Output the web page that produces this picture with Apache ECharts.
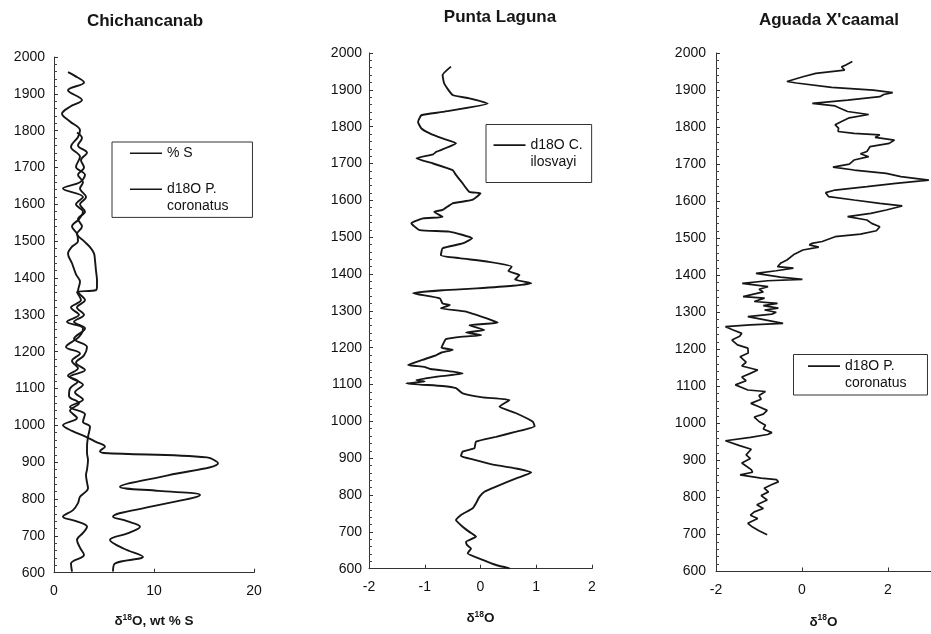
<!DOCTYPE html>
<html>
<head>
<meta charset="utf-8">
<script src="https://cdn.jsdelivr.net/npm/echarts/dist/echarts.min.js"></script>
<style>
html,body{margin:0;padding:0;background:#fff;}
#chart{width:931px;height:634px;}
</style>
</head>
<body>
<div id="chart"></div>
<script>
// ---------------- DATA ----------------
const panelTitles = ['Chichancanab', 'Punta Laguna', "Aguada X'caamal"];
const yearMin = 600, yearMax = 2000, yearStep = 100;

// Chichancanab: wt % S
const chiSYears = [603,625,643,665,689,708,725,740,752,780,811,822,833,865,897,913,925,930,942,955,969,985,1000,1020,1040,1060,1080,1100,1120,1135,1155,1175,1195,1213,1240,1263,1281,1300,1320,1340,1362,1367,1380,1394,1420,1448,1467,1484,1500,1520,1540,1560,1580,1600,1620,1643,1660,1680,1700,1720,1740,1760,1780,1795];
const chiSValues = [5.9,6.1,8.9,7.0,5.6,7.5,8.6,7.3,5.9,9.8,14.6,10.5,6.6,11.5,16.4,15.3,5.0,4.6,5.1,4.2,3.2,1.8,0.9,2.3,1.6,2.5,1.5,1.6,2.4,1.4,2.4,1.8,2.6,1.2,2.5,2.9,1.3,2.5,1.7,2.7,2.3,4.2,4.3,4.3,4.2,4.1,4.0,3.6,3.0,2.3,2.8,2.4,3.1,2.6,3.2,2.6,2.9,2.4,3.0,2.7,3.3,2.4,2.8,2.3];

// Chichancanab: d18O P. coronatus
const chiOYears = [603,625,648,668,689,708,725,740,752,770,789,806,829,845,865,880,906,925,942,969,996,1010,1030,1050,1070,1090,1110,1132,1150,1170,1190,1213,1235,1263,1281,1300,1320,1340,1365,1390,1410,1440,1466,1485,1500,1520,1540,1560,1580,1600,1620,1643,1660,1680,1702,1729,1756,1783,1801,1825,1846,1865,1883,1910,1931,1950,1959];
const chiOValues = [1.8,1.7,3.0,2.6,2.3,2.9,3.3,2.2,0.9,1.9,2.4,2.6,3.4,3.3,3.2,3.3,3.4,3.3,3.3,3.4,3.6,2.9,3.1,1.6,2.9,2.1,2.9,1.6,3.1,2.2,3.0,3.3,2.0,3.1,2.0,3.0,2.3,3.1,2.4,2.6,2.2,1.8,1.4,1.8,2.4,2.3,1.8,2.5,2.9,2.2,2.9,0.9,2.6,3.1,2.2,2.6,1.7,2.4,2.6,1.6,0.8,1.6,2.8,1.4,3.0,2.0,1.4];

// Punta Laguna: d18O C. ilosvayi
const plYears = [601,610,624,642,655,664,673,687,700,714,732,746,764,778,795,809,823,845,861,872,881,897,906,918,927,945,958,972,987,999,1022,1040,1058,1065,1076,1090,1096,1103,1108,1112,1121,1130,1135,1142,1148,1153,1167,1180,1187,1194,1200,1207,1223,1230,1234,1241,1248,1261,1268,1280,1298,1307,1316,1320,1334,1348,1356,1361,1368,1375,1385,1397,1408,1420,1433,1443,1451,1470,1483,1497,1515,1519,1538,1551,1555,1569,1574,1592,1601,1619,1623,1646,1669,1682,1700,1714,1725,1732,1755,1768,1782,1795,1813,1831,1840,1863,1877,1886,1917,1940,1963];
const plValues = [0.52,0.28,0.04,-0.23,-0.17,-0.24,-0.26,-0.08,-0.20,-0.32,-0.44,-0.35,-0.14,-0.08,-0.02,0.07,0.28,0.64,0.91,0.64,0.28,-0.14,-0.35,-0.32,-0.11,-0.08,0.28,0.64,0.97,0.94,0.64,0.34,0.52,0.04,-0.32,-0.44,-0.68,-1.33,-1.0,-1.15,-0.79,-0.32,-0.50,-0.90,-1.01,-1.30,-1.04,-0.79,-0.70,-0.50,-0.70,-0.68,-0.62,-0.32,0.01,-0.26,0.07,-0.20,0.31,0.10,-0.26,-0.71,-0.55,-0.68,-0.73,-1.21,-0.68,-0.07,0.58,0.91,0.62,0.70,0.50,0.56,0.15,-0.38,-0.71,-0.68,-0.32,-0.15,-0.56,-1.09,-1.24,-1.03,-0.68,-0.83,-0.68,-0.50,-0.15,0.00,-0.20,-0.32,-0.44,-0.50,-0.85,-1.15,-0.85,-0.79,-0.44,-0.68,-0.91,-1.06,-1.12,-1.06,-0.68,0.13,-0.20,-0.50,-0.65,-0.68,-0.53];

// Aguada X'caamal: d18O P. coronatus
const axYears = [699,710,720,730,743,752,761,770,780,793,805,815,825,835,842,848,852,861,868,875,885,893,905,915,930,940,953,962,970,975,985,995,1005,1017,1025,1035,1045,1054,1065,1075,1086,1090,1097,1104,1115,1125,1135,1144,1155,1165,1180,1190,1203,1212,1225,1235,1243,1252,1261,1266,1270,1278,1288,1295,1300,1306,1311,1318,1324,1329,1338,1342,1347,1355,1362,1369,1378,1385,1389,1395,1405,1412,1419,1423,1432,1441,1455,1468,1476,1482,1486,1491,1504,1511,1520,1531,1540,1549,1558,1567,1576,1587,1594,1603,1612,1623,1630,1639,1648,1657,1666,1675,1684,1692,1700,1711,1720,1728,1734,1747,1756,1765,1772,1779,1783,1788,1797,1806,1815,1825,1834,1842,1850,1857,1864,1873,1882,1888,1893,1900,1907,1919,1923,1936,1945,1954,1963,1968,1977];
const axValues = [-0.81,-1.0,-1.15,-1.26,-1.03,-1.2,-1.11,-0.9,-1.05,-0.81,-0.95,-0.78,-0.88,-0.7,-0.55,-0.59,-0.95,-1.44,-1.15,-1.18,-1.3,-1.4,-1.2,-1.3,-1.18,-1.45,-1.78,-1.2,-0.8,-0.7,-0.9,-0.85,-1.0,-1.11,-0.9,-0.81,-1.0,-1.19,-0.95,-1.0,-0.85,-1.26,-1.4,-1.55,-1.3,-1.4,-1.2,-1.03,-1.4,-1.3,-1.44,-1.25,-1.26,-1.5,-1.63,-1.45,-1.4,-1.6,-1.78,-1.2,-0.44,-0.8,-1.26,-0.7,-0.6,-0.87,-0.55,-0.9,-0.57,-1.11,-0.87,-1.37,-1.39,-0.9,-1.0,-0.79,-1.39,-0.8,0.01,-0.5,-1.07,-0.6,-0.2,-0.57,-0.5,-0.35,-0.2,0.02,0.39,0.17,0.23,0.47,0.77,1.36,1.73,1.81,1.62,1.51,1.06,1.6,1.96,2.33,1.81,1.21,0.62,0.55,0.77,1.51,2.18,2.95,2.3,1.96,1.21,0.72,1.1,1.21,1.55,1.36,1.51,1.58,2.03,2.15,1.7,1.81,1.21,0.84,0.85,0.77,0.92,1.1,1.55,1.06,0.9,0.77,0.24,1.06,1.81,1.9,2.11,1.66,0.69,-0.13,-0.35,0.02,0.32,0.99,0.92,1.03,1.17];

// axis ranges / labels
const xRanges = [{min:0,max:20,interval:10},{min:-2,max:2,interval:1},{min:-2,max:3,interval:2}];
const legendTexts = {
  '% S': '% S\n ',
  'd18O P. coronatus': 'd18O P.\ncoronatus',
  'd18O C. ilosvayi': 'd18O C.\nilosvayi',
  'd18O P. coronatus ': 'd18O P.\ncoronatus'
};

// ---------------- CHART ----------------
const FONT = "'Liberation Sans', Arial, Helvetica, sans-serif";
const INK = '#161616';
const pairs = (vals, yrs) => vals.map((v, i) => [v, yrs[i]]);

const grids = [
  {left: 54, top: 57, width: 200, height: 515.7},
  {left: 369, top: 53, width: 223, height: 515.7},
  {left: 716, top: 53, width: 224, height: 518.7}
];
const yLabelMargins = [9, 7, 10];
const xLabelMargins = [11, 11.5, 12];
const nameGaps = [40.5, 41, 42];
const axisNames = [
  '{a|δ}{s|18}{a|O, wt % S}',
  '{a|δ}{s|18}{a|O}',
  '{a|δ}{s|18}{a|O}'
];

const richName = {
  a: {fontSize: 13.5, fontWeight: 'bold', fontFamily: FONT, color: INK, lineHeight: 17},
  s: {fontSize: 8.5, fontWeight: 'bold', fontFamily: FONT, color: INK, lineHeight: 17, verticalAlign: 'top', padding: [0, 0, 6, 0]}
};

const xAxes = xRanges.map((r, i) => ({
  type: 'value', gridIndex: i, min: r.min, max: r.max, interval: r.interval,
  name: axisNames[i], nameLocation: 'middle', nameGap: nameGaps[i],
  nameTextStyle: {rich: richName},
  axisLine: {show: true, onZero: false, lineStyle: {color: '#333', width: 1}},
  axisTick: {show: true, inside: true, length: 4, lineStyle: {color: '#333'}},
  axisLabel: {fontSize: 14, fontFamily: FONT, color: '#111', margin: xLabelMargins[i], showMaxLabel: i === 2 ? false : true, formatter: v => String(v)},
  splitLine: {show: false}
}));

const yAxes = grids.map((g, i) => ({
  type: 'value', gridIndex: i, min: yearMin, max: yearMax, interval: yearStep,
  axisLine: {show: true, onZero: false, lineStyle: {color: '#333', width: 1}},
  axisTick: {show: true, inside: true, length: 4, lineStyle: {color: '#333'}},
  minorTick: {show: true, splitNumber: 5, length: 3, lineStyle: {color: '#444'}},
  axisLabel: {fontSize: 14, fontFamily: FONT, color: '#111', margin: yLabelMargins[i], formatter: v => String(v)},
  splitLine: {show: false}
}));

const titleCenters = [[145, 21], [500, 17], [829, 20.7]];
const titles = panelTitles.map((t, i) => ({
  text: t, left: titleCenters[i][0], top: titleCenters[i][1],
  textAlign: 'center', textVerticalAlign: 'middle', padding: 0,
  textStyle: {fontSize: 17, fontWeight: 'bold', fontFamily: FONT, color: INK}
}));

// legend icon: a line sample aligned with the first text line of a 2-line label
const lineIcon = 'path://M0,0h0.05v0.05h-0.05z M0,7.7h32v1.7h-32z M0,33.95h0.05v0.05h-0.05z';
const legendBase = {
  orient: 'vertical', itemWidth: 32, itemHeight: 34, itemGap: 2,
  icon: lineIcon, symbolKeepAspect: false, selectedMode: false,
  borderColor: '#333', borderWidth: 1, backgroundColor: '#fff',
  formatter: name => legendTexts[name],
  textStyle: {fontSize: 14, lineHeight: 17, fontFamily: FONT, color: '#111'}
};
const legends = [
  Object.assign({}, legendBase, {data: ['% S', 'd18O P. coronatus'], left: 112, top: 142, padding: [2.7, 24, 2.7, 18]}),
  Object.assign({}, legendBase, {data: ['d18O C. ilosvayi'], left: 486, top: 124.5, padding: [12, 9, 12, 7.5]}),
  Object.assign({}, legendBase, {data: ['d18O P. coronatus '], left: 793.5, top: 354.5, padding: [3, 21, 3.5, 14.5]})
];

const lineSeries = (name, data, idx, smooth, width) => ({
  name, type: 'line', xAxisIndex: idx, yAxisIndex: idx, data,
  showSymbol: false, symbol: 'none', smooth: smooth, clip: false,
  lineStyle: {color: INK, width: width}, itemStyle: {color: INK},
  animation: false
});

const option = {
  backgroundColor: '#fff',
  animation: false,
  title: titles,
  grid: grids,
  xAxis: xAxes,
  yAxis: yAxes,
  legend: legends,
  series: [
    lineSeries('% S', pairs(chiSValues, chiSYears), 0, 0.35, 1.9),
    lineSeries('d18O P. coronatus', pairs(chiOValues, chiOYears), 0, 0.35, 1.9),
    lineSeries('d18O C. ilosvayi', pairs(plValues, plYears), 1, 0.15, 1.9),
    lineSeries('d18O P. coronatus ', pairs(axValues, axYears), 2, false, 1.7)
  ]
};

const chart = echarts.init(document.getElementById('chart'), null, {renderer: 'canvas'});
chart.setOption(option);
</script>
</body>
</html>
